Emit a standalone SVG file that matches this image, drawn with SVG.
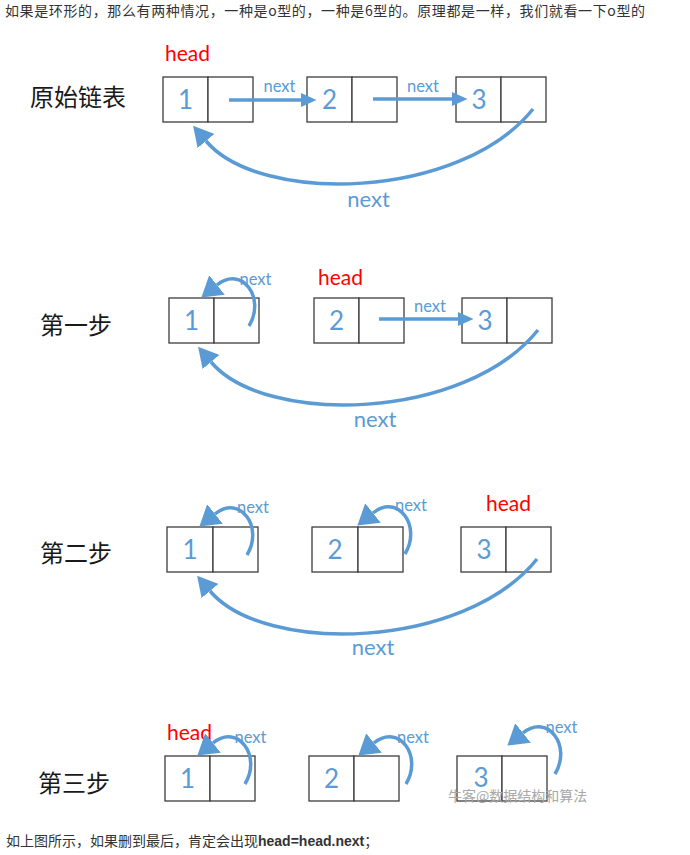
<svg xmlns="http://www.w3.org/2000/svg" xmlns:xlink="http://www.w3.org/1999/xlink" width="690" height="855" viewBox="0 0 690 855">
<style>
.cell{fill:#fff;stroke:#3c3c3c;stroke-width:1.3}
.num{font-family:Lato,"Open Sans",sans-serif;font-size:26px;fill:#5B9BD5;text-anchor:middle}
.nx{font-family:Lato,"Open Sans",sans-serif;font-size:16.5px;fill:#5B9BD5;text-anchor:middle}
.nxb{font-family:Lato,"Open Sans",sans-serif;font-size:22px;fill:#5B9BD5;text-anchor:middle}
.head{font-family:Lato,"Open Sans",sans-serif;font-size:21px;fill:#FF0000}
.step{font-family:"Noto Sans CJK SC",sans-serif;font-size:24px;fill:#1a1a1a}
.para{font-family:"Noto Sans CJK SC",sans-serif;font-size:14px;fill:#333}
.ln{fill:none;stroke:#5B9BD5;stroke-width:3.5}
.wm{font-family:"Noto Sans CJK SC",sans-serif;font-size:14px;fill:#a8a8a8}
</style>
<defs>
<marker id="ah" markerUnits="userSpaceOnUse" markerWidth="16" markerHeight="14" refX="0" refY="7" orient="auto"><path d="M0,0 L15.5,7 L0,14 z" fill="#5B9BD5"/></marker>
<marker id="ahb" markerUnits="userSpaceOnUse" markerWidth="21" markerHeight="22" refX="0" refY="11" orient="auto"><path d="M0,0 L20,11 L0,22 z" fill="#5B9BD5"/></marker>
<marker id="ahs" markerUnits="userSpaceOnUse" markerWidth="21" markerHeight="25" refX="0" refY="12.5" orient="auto"><path d="M0,0 L20,12.5 L0,25 z" fill="#5B9BD5"/></marker>
<path id="back" class="ln" d="M0,0 C-73,91 -273,96 -327,32" marker-end="url(#ahb)"/>
<path id="loop" class="ln" d="M47,28 C64,0 40,-33 15,-13" marker-end="url(#ahs)"/>
</defs>

<text class="para" x="5" y="16" textLength="640" lengthAdjust="spacing">如果是环形的，那么有两种情况，一种是o型的，一种是6型的。原理都是一样，我们就看一下o型的</text>

<!-- Section 1 -->
<text class="step" x="30" y="106">原始链表</text>
<g id="s1-n1"><rect class="cell" x="163" y="77" width="45" height="45"/><rect class="cell" x="208" y="77" width="45" height="45"/><text class="num" x="185.5" y="109">1</text><text class="head" x="165" y="61">head</text></g>
<g id="s1-n2"><rect class="cell" x="307" y="77" width="45" height="45"/><rect class="cell" x="352" y="77" width="45" height="45"/><text class="num" x="329.5" y="109">2</text></g>
<g id="s1-n3"><rect class="cell" x="456" y="77" width="45" height="45"/><rect class="cell" x="501" y="77" width="45" height="45"/><text class="num" x="479" y="109">3</text></g>

<!-- Section 2 -->
<text class="step" x="40" y="334">第一步</text>
<g id="s2-n1"><rect class="cell" x="169" y="298" width="45" height="45"/><rect class="cell" x="214" y="298" width="45" height="45"/><text class="num" x="191.5" y="330">1</text></g>
<g id="s2-n2"><rect class="cell" x="314" y="298" width="45" height="45"/><rect class="cell" x="359" y="298" width="45" height="45"/><text class="num" x="336.5" y="330">2</text><text class="head" x="318" y="285">head</text></g>
<g id="s2-n3"><rect class="cell" x="462" y="298" width="45" height="45"/><rect class="cell" x="507" y="298" width="45" height="45"/><text class="num" x="485" y="330">3</text></g>

<!-- Section 3 -->
<text class="step" x="40" y="562">第二步</text>
<g id="s3-n1"><rect class="cell" x="167" y="527" width="46" height="45"/><rect class="cell" x="213" y="527" width="45" height="45"/><text class="num" x="190" y="559">1</text></g>
<g id="s3-n2"><rect class="cell" x="312" y="527" width="46" height="45"/><rect class="cell" x="358" y="527" width="45" height="45"/><text class="num" x="335" y="559">2</text></g>
<g id="s3-n3"><rect class="cell" x="461" y="527" width="45" height="45"/><rect class="cell" x="506" y="527" width="45" height="45"/><text class="num" x="484" y="559">3</text><text class="head" x="486" y="511">head</text></g>

<!-- Section 4 -->
<text class="step" x="38" y="792">第三步</text>
<g id="s4-n1"><rect class="cell" x="165" y="756" width="45" height="45"/><rect class="cell" x="210" y="756" width="45" height="45"/><text class="num" x="187.5" y="788">1</text><text class="head" x="167" y="740">head</text></g>
<g id="s4-n2"><rect class="cell" x="309" y="756" width="45" height="45"/><rect class="cell" x="354" y="756" width="45" height="45"/><text class="num" x="331.5" y="788">2</text></g>
<g id="s4-n3"><rect class="cell" x="457" y="756" width="45" height="45"/><rect class="cell" x="502" y="756" width="45" height="45"/><text class="num" x="481" y="787">3</text></g>

<g id="connectors">
  <!-- section 1 -->
  <line class="ln" x1="229" y1="100" x2="301" y2="100" marker-end="url(#ah)"/>
  <text class="nx" x="279.5" y="92">next</text>
  <line class="ln" x1="373" y1="99" x2="452" y2="99" marker-end="url(#ah)"/>
  <text class="nx" x="423" y="92">next</text>
  <use xlink:href="#back" href="#back" transform="translate(533,109)"/>
  <text class="nxb" x="368.5" y="207">next</text>
  <!-- section 2 -->
  <use xlink:href="#loop" href="#loop" transform="translate(202,298)"/>
  <text class="nx" x="255.5" y="285">next</text>
  <line class="ln" x1="379" y1="319" x2="458" y2="319" marker-end="url(#ah)"/>
  <text class="nx" x="430" y="312">next</text>
  <use xlink:href="#back" href="#back" transform="translate(538,330)"/>
  <text class="nxb" x="375" y="427">next</text>
  <!-- section 3 -->
  <use xlink:href="#loop" href="#loop" transform="translate(200,527)"/>
  <text class="nx" x="253" y="513">next</text>
  <use xlink:href="#loop" href="#loop" transform="translate(358,526)"/>
  <text class="nx" x="411" y="511">next</text>
  <use xlink:href="#back" href="#back" transform="translate(537,559)"/>
  <text class="nxb" x="373" y="655">next</text>
  <!-- section 4 -->
  <use xlink:href="#loop" href="#loop" transform="translate(198,756)"/>
  <text class="nx" x="250.5" y="743">next</text>
  <use xlink:href="#loop" href="#loop" transform="translate(359,756)"/>
  <text class="nx" x="413" y="743">next</text>
  <use xlink:href="#loop" href="#loop" transform="translate(508,746)"/>
  <text class="nx" x="561.5" y="733">next</text>
</g>

<text class="wm" x="448" y="801">牛客@数据结构和算法</text>

<text class="para" x="6" y="846">如上图所示，如果删到最后，肯定会出现<tspan font-weight="bold" font-family="Liberation Sans, sans-serif">head=head.next</tspan>；</text>
</svg>
